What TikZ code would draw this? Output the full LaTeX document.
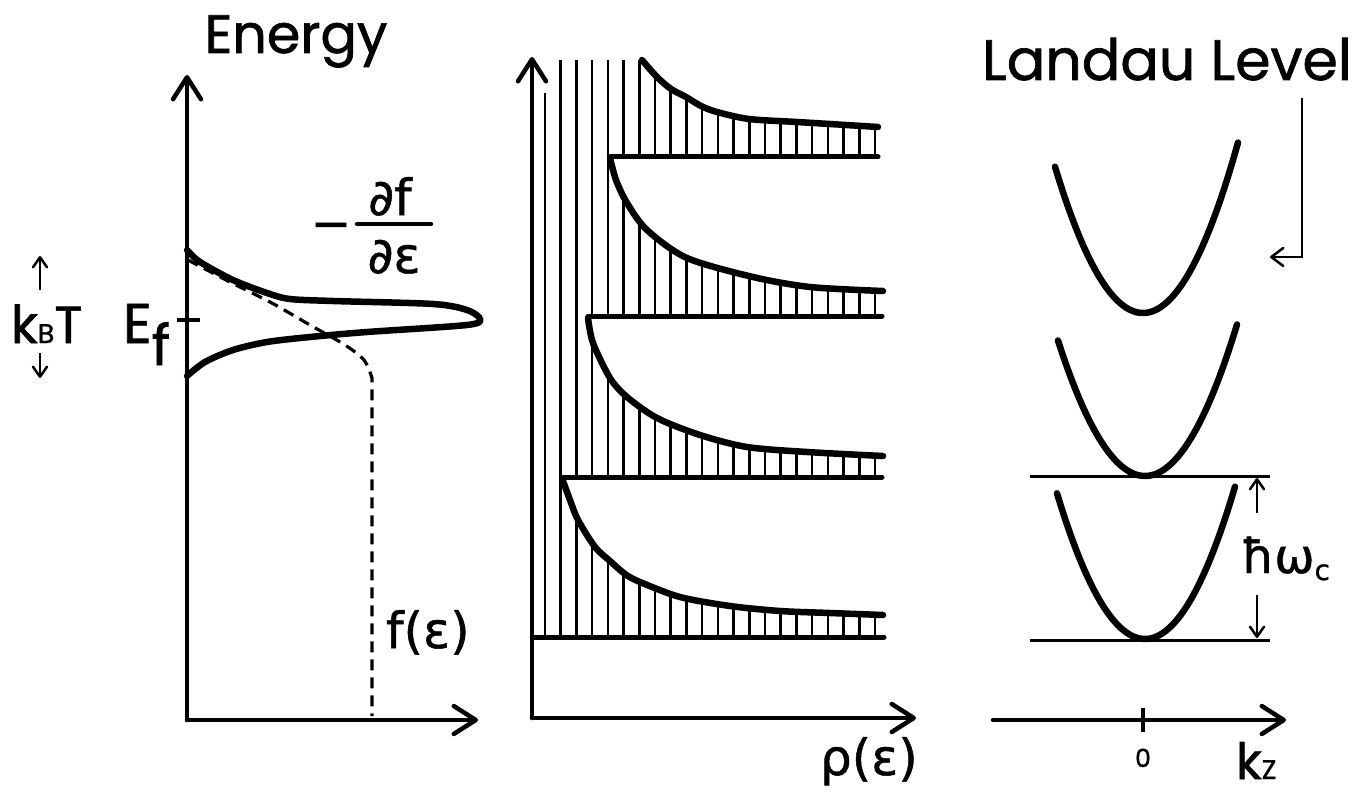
\documentclass[tikz,border=0pt]{standalone}
\usepackage{fontspec}
\setmainfont{Poppins}[BoldFont=Poppins, BoldFeatures={FakeBold=1.2}]
\newfontfamily\gr{DejaVu Sans}[BoldFont=DejaVu Sans, BoldFeatures={FakeBold=1.0}]
\usetikzlibrary{arrows.meta}
\newcommand\myfs[1]{\fontsize{#1}{#1}\selectfont}
\tikzset{
  ax/.style={line width=4.5pt, line cap=round, -{Straight Barb[length=22pt,width=28pt,round]}},
  thinarrow/.style={line width=2.5pt, -{Straight Barb[length=10pt,width=14pt,round]}},
  band/.style={line width=6.5pt, line cap=round, line join=round},
  blevel/.style={line width=5pt, line cap=round},
  hatch/.style={line width=2.6pt},
  thinline/.style={line width=3pt},
  lab/.style={inner sep=0pt, outer sep=0pt, font=\bfseries},
  fermi/.style={line width=3.2pt, dash pattern=on 11pt off 7pt},
}
\begin{document}
\begin{tikzpicture}[x=1pt,y=-1pt]
\useasboundingbox (0,0) rectangle (1368,797);

% ---------------- left panel ----------------
\coordinate (eO) at (187,720);
\coordinate (eTop) at (187,75);
\coordinate (eRight) at (478,720);
\draw[ax] (eO) -- (eTop);
\draw[ax] (eO) -- (eRight);
\node[lab, anchor=base] (energy) at (296,53) {\myfs{54}Energy};

% Fermi function (dashed)
\draw[fermi] plot[smooth] coordinates {(188,260) (230,282) (270,302) (310,325) (345,345) (364,360) (372,378)} -- (372,716);

% -df/de curve
\draw[band] plot[smooth] coordinates {(187,250) (200,262) (233,280) (267,293) (290,299) (333,301) (433,304) (467,310) (480,319) (467,325) (367,332) (310,337) (267,342) (233,350) (205,362) (187,376)};

% Ef tick
\coordinate (efL) at (177,320);
\coordinate (efR) at (200,320);
\draw[line width=3.5pt] (efL) -- (efR);
\node[lab, anchor=base west] (ef) at (123,343) {\myfs{56}E\raisebox{-22pt}{f}};

% kBT
\node[lab, anchor=base west] (kbt) at (11,343) {\myfs{52}k{\myfs{27}B}T};
\coordinate (kU1) at (40,290); \coordinate (kU2) at (40,256);
\coordinate (kD1) at (40,353); \coordinate (kD2) at (40,378);
\draw[thinarrow] (kU1) -- (kU2);
\draw[thinarrow] (kD1) -- (kD2);

% -df/de label
\node[lab, anchor=base] (dfminus) at (331,240) {\gr\myfs{48}−};
\coordinate (barL) at (357,224); \coordinate (barR) at (431,224);
\draw[line width=4.5pt, line cap=round] (barL) -- (barR);
\node[lab, anchor=base] (dfnum) at (390,215) {\gr\myfs{50}∂f};
\node[lab, anchor=base] (dfden) at (394,273) {\gr\myfs{50}∂ε};

\node[lab, anchor=base west] (feps) at (386,648) {\gr\myfs{50}f(ε)};

% ---------------- middle panel ----------------
% hatching
\draw[hatch] (545,93) -- (545,637);
\foreach \k in {1,...,21} {
  \draw[hatch] ({545+15.714*\k},60) -- ({545+15.714*\k},637);
}
% white regions (gaps between sub-bands)
\fill[white] plot[smooth] coordinates {(563,481) (570,500) (578,520) (595,547) (610,561) (625,574) (640,582) (680,597) (730,606) (780,611) (830,613) (883,615)} -- (892,615) -- (892,477) -- (563,477) -- cycle;
\fill[white] plot[smooth] coordinates {(588,318) (593,343) (610,378) (627,397) (657,418) (700,435) (747,447) (807,452) (883,456)} -- (892,456) -- (892,316) -- (588,316) -- cycle;
\fill[white] plot[smooth] coordinates {(610,158) (616,180) (627,203) (647,230) (687,258) (753,277) (810,287) (883,291)} -- (892,291) -- (892,157) -- (610,157) -- cycle;
\fill[white] plot[smooth] coordinates {(642,60) (657,77) (671,89) (686,97) (701,106) (717,112) (749,119) (797,122) (830,124) (878,127)} -- (892,127) -- (892,45) -- (642,45) -- cycle;
% level baselines
\draw[blevel] (533,637) -- (884,637);
\draw[blevel] (563,477) -- (882,477);
\draw[blevel] (588,316) -- (882,316);
\draw[blevel] (610,157) -- (878,157);
% DOS curves
\draw[band] plot[smooth] coordinates {(563,481) (570,500) (578,520) (595,547) (610,561) (625,574) (640,582) (680,597) (730,606) (780,611) (830,613) (883,615)};
\draw[band] plot[smooth] coordinates {(588,318) (593,343) (610,378) (627,397) (657,418) (700,435) (747,447) (807,452) (883,456)};
\draw[band] plot[smooth] coordinates {(610,158) (616,180) (627,203) (647,230) (687,258) (753,277) (810,287) (883,291)};
\draw[band] plot[smooth] coordinates {(642,60) (657,77) (671,89) (686,97) (701,106) (717,112) (749,119) (797,122) (830,124) (878,127)};
% axes
\coordinate (mO) at (532,718);
\coordinate (mTop) at (532,57);
\coordinate (mRight) at (916,718);
\draw[ax] (mO) -- (mTop);
\draw[ax] (mO) -- (mRight);
\node[lab, anchor=base west] (rho) at (820,775) {\gr\myfs{50}ρ(ε)};

% ---------------- right panel ----------------
\node[lab, anchor=base] (landau) at (1167,80) {\myfs{57}Landau Level};
\coordinate (pA) at (1302,98); \coordinate (pB) at (1302,257); \coordinate (pC) at (1270,257);
\draw[line width=2.5pt, -{Straight Barb[length=12pt,width=18pt,round]}] (pA) -- (pB) -- (pC);

\draw[band] plot[smooth, domain=-88:95, samples=40] ({1143+\x},{313-153*(\x/90)*(\x/90)});
\draw[band] plot[smooth, domain=-87:92, samples=40] ({1145+\x},{476-145*(\x/90)*(\x/90)});
\draw[band] plot[smooth, domain=-88:90, samples=40] ({1145+\x},{639-149*(\x/89)*(\x/89)});

\coordinate (l1L) at (1030,476); \coordinate (l1R) at (1270,476);
\coordinate (l0L) at (1030,640); \coordinate (l0R) at (1270,640);
\draw[thinline] (l1L) -- (l1R);
\draw[thinline] (l0L) -- (l0R);
\coordinate (hU1) at (1257,513); \coordinate (hU2) at (1257,478);
\coordinate (hD1) at (1257,595); \coordinate (hD2) at (1257,638);
\draw[thinarrow] (hU1) -- (hU2);
\draw[thinarrow] (hD1) -- (hD2);
\node[lab, anchor=base west] (hw) at (1241,573) {\gr\myfs{48}ħω\raisebox{-7pt}{\myfs{28}c}};

\coordinate (kO) at (993,720);
\coordinate (kRight) at (1286,720);
\draw[ax] (kO) -- (kRight);
\coordinate (tU) at (1143,708); \coordinate (tD) at (1143,732);
\draw[line width=3.5pt] (tU) -- (tD);
\node[lab, anchor=base] (zero) at (1143,767) {\myfs{25}0};
\node[lab, anchor=base west] (kz) at (1236,779) {\myfs{50}k{\myfs{27}Z}};
\end{tikzpicture}
\end{document}
